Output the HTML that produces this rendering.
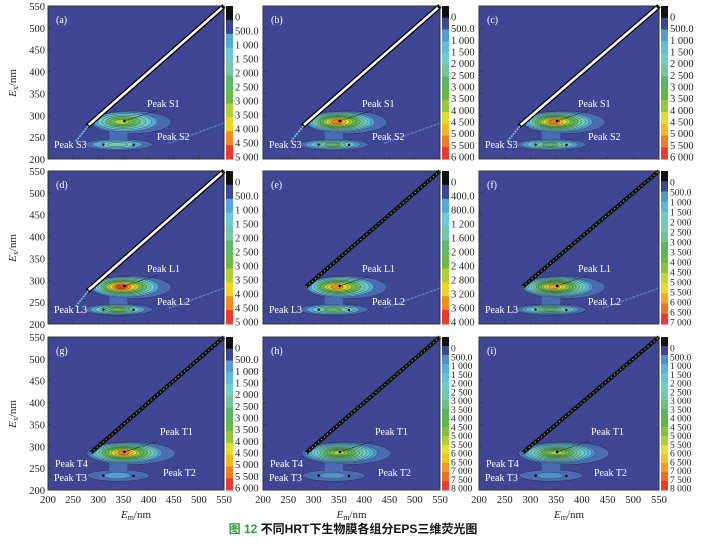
<!DOCTYPE html>
<html><head><meta charset="utf-8">
<style>
body{margin:0;background:#fff;width:706px;height:539px;overflow:hidden}
svg text{font-family:"Liberation Serif",serif}
</style></head><body>
<svg id="s" width="706" height="539" xmlns="http://www.w3.org/2000/svg"></svg>
<script>
const S=document.getElementById('s');let h='';
const BG='#3f4693';
const key=['#4a6cb3','#58aede','#72cfd0','#74c496','#4fb049','#8dc63f','#efe62b','#f7941d','#ee3a2e'];
function lerp(a,b,t){const p=x=>parseInt(x,16);let r='#';for(let i=1;i<7;i+=2){const v=Math.round(p(a.substr(i,2))*(1-t)+p(b.substr(i,2))*t);r+=v.toString(16).padStart(2,'0');}return r;}
function ramp(n){const o=[];for(let i=0;i<n;i++){const f=n==1?0:i/(n-1)*(key.length-1);const k=Math.min(Math.floor(f),key.length-2);o.push(lerp(key[k],key[k+1],f-k));}return o;}
const cols=[[48,176],[263,177],[479,180]],rows=[6,171,337],H=153;
const panels=[
['(a)',['0','500.0','1 000','1 500','2 000','2 500','3 000','3 500','4 000','4 500','5 000'],'S',1,0.7],
['(b)',['0','500.0','1 000','1 500','2 000','2 500','3 000','3 500','4 000','4 500','5 000','5 500','6 000'],'S',1,0.95],
['(c)',['0','500.0','1 000','1 500','2 000','2 500','3 000','3 500','4 000','4 500','5 000','5 500','6 000'],'S',1,0.95],
['(d)',['0','500.0','1 000','1 500','2 000','2 500','3 000','3 500','4 000','4 500','5 000'],'L',1,0.95],
['(e)',['0','400.0','800.0','1 200','1 600','2 000','2 400','2 800','3 200','3 600','4 000'],'L',0,0.9],
['(f)',['0','500.0','1 000','1 500','2 000','2 500','3 000','3 500','4 000','4 500','5 000','5 500','6 000','6 500','7 000'],'L',0,0.85],
['(g)',['0','500.0','1 000','1 500','2 000','2 500','3 000','3 500','4 000','4 500','5 000','5 500','6 000'],'T',0,0.95],
['(h)',['0','500.0','1 000','1 500','2 000','2 500','3 000','3 500','4 000','4 500','5 000','5 500','6 000','6 500','7 000','7 500','8 000'],'T',0,0.7],
['(i)',['0','500.0','1 000','1 500','2 000','2 500','3 000','3 500','4 000','4 500','5 000','5 500','6 000','6 500','7 000','7 500','8 000'],'T',0,0.7]];
panels.forEach((p,i)=>{
 const r=Math.floor(i/3),c=i%3;const x0=cols[c][0],W=cols[c][1],y0=rows[r];
 const X=v=>x0+(v-200)/350*W,Y=v=>y0+H-(v-200)/350*H;
 const sx=W/350,sy=H/350;
 h+=`<rect x="${x0}" y="${y0}" width="${W}" height="${H}" fill="${BG}"/>`;
 const n=p[1].length;const cl=ramp(n-1);const depth=Math.round((n-1)*p[4]);
 const T=p[2]=='T';
 h+=`<ellipse cx="${X(365)}" cy="${Y(284)}" rx="${(T?88:80)*sx}" ry="${26*sy}" fill="${cl[0]}" stroke="#223" stroke-width="0.4"/>`;
 h+=`<ellipse cx="${X(340)}" cy="${Y(233)}" rx="${(T?62:68)*sx}" ry="${13*sy}" fill="${cl[0]}" stroke="#223" stroke-width="0.4"/>`;
 h+=`<rect x="${X(322)}" y="${Y(268)}" width="${36*sx}" height="${30*sy}" fill="${cl[0]}"/>`;
 for(let k=1;k<depth;k++){const t=k/depth;const cx=355-10*t*(T?0.5:1),rx=(T?74:68)*(1-t)+5,ry=23*(1-t)+2.5;
  h+=`<ellipse cx="${X(cx)}" cy="${Y(285)}" rx="${rx*sx}" ry="${ry*sy}" fill="${cl[k]}" stroke="#233" stroke-width="0.35"/>`;}
 const ld=T?2:Math.max(2,Math.round(depth*0.55));
 for(let k=1;k<ld;k++){const t=k/ld;const rx=(T?40:58)*(1-t)+6,ry=11*(1-t)+2;
  h+=`<ellipse cx="${X(338)}" cy="${Y(233)}" rx="${rx*sx}" ry="${ry*sy}" fill="${cl[Math.min(k,6)]}" stroke="#233" stroke-width="0.35"/>`;}
 h+=`<circle cx="${X(352)}" cy="${Y(287)}" r="1.3" fill="#000"/><circle cx="${X(310)}" cy="${Y(233)}" r="1.2" fill="#000"/><circle cx="${X(370)}" cy="${Y(232)}" r="1.2" fill="#000"/>`;
 if(p[3]){h+=`<line x1="${X(278)}" y1="${Y(275)}" x2="${X(550)}" y2="${Y(550)}" stroke="#000" stroke-width="5"/><line x1="${X(281)}" y1="${Y(278)}" x2="${X(546)}" y2="${Y(546)}" stroke="#fff" stroke-width="2.6"/>`;
  h+=`<line x1="${X(255)}" y1="${Y(240)}" x2="${X(280)}" y2="${Y(276)}" stroke="#7cc" stroke-width="1.6" stroke-dasharray="2 1"/>`;}
 else{h+=`<line x1="${X(285)}" y1="${Y(285)}" x2="${X(550)}" y2="${Y(550)}" stroke="#111" stroke-width="4"/><line x1="${X(285)}" y1="${Y(285)}" x2="${X(550)}" y2="${Y(550)}" stroke="#9c5" stroke-width="1.2" stroke-dasharray="1 3"/>`;}
 if(p[2]!='T'&&i!=2){h+=`<line x1="${X(440)}" y1="${Y(236)}" x2="${X(550)}" y2="${Y(282)}" stroke="#5a7fc0" stroke-width="1.4" stroke-dasharray="3 1"/>`;}
 const ts='fill="#fff" font-size="10"';
 if(T){
  h+=`<text x="${x0+112}" y="${y0+98}" ${ts}>Peak T1</text><text x="${x0+7}" y="${y0+130}" ${ts}>Peak T4</text><text x="${x0+6}" y="${y0+144}" ${ts}>Peak T3</text><text x="${x0+115}" y="${y0+139}" ${ts}>Peak T2</text>`;
 }else{const L=p[2];
  h+=`<text x="${x0+99}" y="${y0+101}" ${ts}>Peak ${L}1</text><text x="${x0+109}" y="${y0+134}" ${ts}>Peak ${L}2</text><text x="${x0+6}" y="${y0+142}" ${ts}>Peak ${L}3</text>`;}
 h+=`<line x1="${x0+110}" y1="${y0+104}" x2="${X(352)}" y2="${Y(287)}" stroke="#222" stroke-width="0.5"/>`;
 h+=`<text x="${x0+8}" y="${y0+17}" fill="#fff" font-size="10">${p[0]}</text>`;
 h+=`<rect x="${x0}" y="${y0}" width="${W}" height="${H}" fill="none" stroke="#333" stroke-width="1"/>`;
 for(let v=250;v<550;v+=50){h+=`<line x1="${X(v)}" y1="${y0+H}" x2="${X(v)}" y2="${y0+H-3}" stroke="#333" stroke-width="0.7"/><line x1="${x0}" y1="${Y(v)}" x2="${x0+3}" y2="${Y(v)}" stroke="#333" stroke-width="0.7"/>`;}
 const cx=x0+W+2,seg=H/n;
 for(let k=0;k<n;k++){const col=k==0?'#111':(k==1?BG:cl[Math.min(k-1,cl.length-1)]);
  h+=`<rect x="${cx}" y="${y0+k*seg}" width="7" height="${seg+0.5}" fill="${k==n-1?'#ee3a2e':col}"/>`;}
 const la=y0+11,lb=y0+151;
 p[1].forEach((t,k)=>{h+=`<text x="${cx+9}" y="${la+(lb-la)*k/(n-1)+3.5}" font-size="${n>14?9.5:10.5}" fill="#222">${t}</text>`;});
 if(c==0){for(let v=200;v<=550;v+=50)h+=`<text x="${x0-3}" y="${Y(v)+4}" font-size="10.5" text-anchor="end" fill="#222">${v}</text>`;
  h+=`<text transform="translate(${x0-32},${y0+77}) rotate(-90)" font-size="11" text-anchor="middle" fill="#222"><tspan font-style="italic">E</tspan><tspan font-size="8" dy="2">x</tspan><tspan dy="-2">/nm</tspan></text>`;}
 if(r==2){for(let v=200;v<=550;v+=50)h+=`<text x="${X(v)}" y="${y0+H+13}" font-size="10.5" text-anchor="middle" fill="#222">${v}</text>`;
  h+=`<text x="${x0+W/2}" y="${y0+H+28}" font-size="11" text-anchor="middle" fill="#222"><tspan font-style="italic">E</tspan><tspan font-size="8" dy="2">m</tspan><tspan dy="-2">/nm</tspan></text>`;}
});
h+=`<text x="353" y="533" font-size="12" font-weight="bold" text-anchor="middle" style='font-family:"Liberation Sans","Noto Sans CJK SC",sans-serif'><tspan fill="#2e9a3c">图 12 </tspan><tspan fill="#111">不同HRT下生物膜各组分EPS三维荧光图</tspan></text>`;
S.innerHTML=h;
</script>
</body></html>
